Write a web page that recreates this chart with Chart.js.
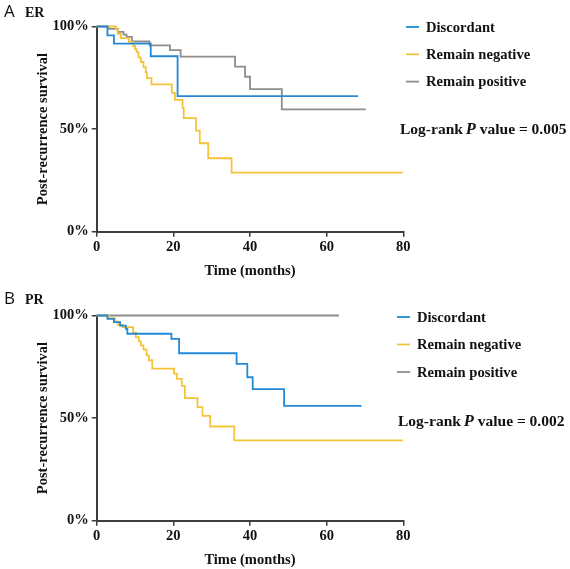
<!DOCTYPE html>
<html>
<head>
<meta charset="utf-8">
<script src="https://cdn.jsdelivr.net/npm/chart.js@4.4.0/dist/chart.umd.min.js"></script>
<style>
  html, body { margin: 0; padding: 0; background: #fff; }
  #wrap { position: relative; width: 570px; height: 569px; }
  .panel { position: absolute; left: 0; width: 570px; height: 280px; }
</style>
</head>
<body>
<div id="wrap">
  <div class="panel" style="top:0"><canvas id="chartER"></canvas></div>
  <div class="panel" style="top:289px"><canvas id="chartPR"></canvas></div>
</div>
<script>
// ---- data (months, survival %) ----
const xTicks = [0, 20, 40, 60, 80];
const yTicks = [0, 50, 100];
const groupNames = ['Discordant', 'Remain negative', 'Remain positive'];

// ER panel
const erDiscMonths = [0, 2.8, 4.5, 14.1, 21.1, 68.2];
const erDiscSurv   = [100, 95.7, 91.7, 85.5, 66.1, 66.1];
const erNegMonths = [0, 5.0, 5.5, 6.3, 8.4, 9.5, 10.0, 10.4, 10.9, 11.5, 12.2, 12.8, 13.1, 14.3, 19.6, 20.4, 22.4, 22.7, 25.9, 26.9, 29.1, 35.2, 79.8];
const erNegSurv   = [100, 98.6, 96.4, 94.3, 92.5, 90.5, 89.0, 87.5, 85.0, 82.7, 80.2, 77.7, 74.8, 71.8, 67.7, 64.2, 60.3, 55.3, 49.3, 43.1, 35.8, 28.8, 28.8];
const erPosMonths = [0, 3.1, 5.5, 7.0, 7.8, 9.2, 13.8, 19.1, 21.9, 36.1, 38.7, 40.0, 48.3, 70.2];
const erPosSurv   = [100, 98.8, 97.4, 96.0, 94.9, 92.7, 90.8, 88.5, 85.3, 80.4, 75.5, 69.5, 59.6, 59.6];
const erPValue = '0.005';

// PR panel
const prDiscMonths = [0, 2.8, 4.5, 6.1, 7.6, 8.0, 19.5, 21.5, 36.5, 39.3, 40.7, 48.9, 69.1];
const prDiscSurv   = [100, 98.4, 96.8, 95.1, 93.5, 91.1, 88.6, 81.6, 76.4, 69.9, 64.1, 56.0, 56.0];
const prNegMonths = [0, 3.2, 4.7, 5.5, 6.7, 9.5, 10.2, 11.0, 11.5, 12.2, 13.0, 13.6, 14.5, 20.2, 20.9, 22.2, 23.0, 26.3, 27.6, 29.6, 35.9, 79.9];
const prNegSurv   = [100, 98.7, 97.1, 95.5, 94.3, 91.6, 89.5, 87.4, 85.4, 83.5, 80.6, 78.2, 74.1, 71.7, 69.1, 65.7, 59.7, 55.3, 51.1, 45.9, 39.1, 39.1];
const prPosMonths = [0, 63.2];
const prPosSurv   = [100, 100];
const prPValue = '0.002';

const colors = ['#2389d6', '#f5c33b', '#8d8d8d'];
const serif = '"Liberation Serif", "Times New Roman", serif';

function toPoints(months, surv) {
    return months.map(function (m, i) {
        return {x: m, y: surv[i]};
    });
}

// legend, p value and panel tag drawn on the canvas
const notesPlugin = {
    id: 'notes',
    afterDraw(chart, args, opts) {
        const ctx = chart.ctx;
        ctx.save();
        ctx.textBaseline = 'middle';
        ctx.textAlign = 'left';
        // panel tag
        ctx.fillStyle = '#111';
        ctx.font = '17px "Open Sans", sans-serif';
        ctx.fillText(opts.tag, 4, opts.tagY);
        ctx.font = 'bold 14px ' + serif;
        ctx.fillText(opts.title, 25, opts.tagY + 1);
        // legend
        ctx.font = 'bold 14.6px ' + serif;
        chart.data.datasets.forEach(function (ds, i) {
            const y = opts.legendY + i * opts.legendGap;
            ctx.strokeStyle = ds.borderColor;
            ctx.lineWidth = 1.8;
            ctx.beginPath();
            ctx.moveTo(opts.legendX, y);
            ctx.lineTo(opts.legendX + 13, y);
            ctx.stroke();
            ctx.fillStyle = '#111';
            ctx.fillText(ds.label, opts.legendX + 20, y + 1);
        });
        // log-rank p value
        let x = opts.pX;
        const y = opts.pY;
        ctx.font = 'bold 15.5px ' + serif;
        ctx.fillText('Log-rank ', x, y);
        x += ctx.measureText('Log-rank ').width - 1;
        ctx.font = 'italic bold 16.5px ' + serif;
        ctx.fillText('P', x, y);
        x += ctx.measureText('P').width;
        ctx.font = 'bold 15.5px ' + serif;
        ctx.fillText(' value = ' + opts.p, x, y);
        ctx.restore();
    }
};

function makeChart(id, months, survs, notes) {
    const ctx = document.getElementById(id);
    return new Chart(ctx, {
        type: 'line',
        data: {
            datasets: groupNames.map(function (name, i) {
                return {
                    label: name,
                    data: toPoints(months[i], survs[i]),
                    borderColor: colors[i],
                    backgroundColor: colors[i],
                    borderWidth: 1.8,
                    stepped: 'before',
                    pointRadius: 0,
                    fill: false,
                    clip: 4
                };
            })
        },
        options: {
            responsive: false,
            animation: false,
            events: [],
            layout: {padding: {top: 26.5, right: 570 - 403.3, left: 0, bottom: 0}},
            plugins: {
                legend: {display: false},
                tooltip: {enabled: false},
                notes: notes
            },
            scales: {
                x: {
                    type: 'linear',
                    min: 0,
                    max: 80,
                    afterBuildTicks: function (s) {
                        s.ticks = xTicks.map(function (v) { return {value: v}; });
                    },
                    afterFit: function (s) { s.height = 48.3; },
                    grid: {display: true, drawOnChartArea: false, tickLength: 5, color: '#3d3d3d', lineWidth: 1.5},
                    border: {display: true, color: '#3d3d3d', width: 2},
                    ticks: {color: '#111', padding: 2, font: {family: serif, size: 14.5, weight: 'bold'}},
                    title: {display: true, text: 'Time (months)', color: '#111', padding: 0,
                        font: {family: serif, size: 14.5, weight: 'bold'}}
                },
                y: {
                    min: 0,
                    max: 100,
                    afterBuildTicks: function (s) {
                        s.ticks = yTicks.map(function (v) { return {value: v}; });
                    },
                    afterFit: function (s) { s.width = 96.7; },
                    grid: {display: true, drawOnChartArea: false, tickLength: 5, color: '#3d3d3d', lineWidth: 1.5},
                    border: {display: true, color: '#3d3d3d', width: 2},
                    ticks: {color: '#111', padding: 3, font: {family: serif, size: 14.5, weight: 'bold'},
                        callback: function (v) { return v + '%'; }},
                    title: {display: true, text: 'Post-recurrence survival', color: '#111', padding: {top: 35, bottom: 0},
                        font: {family: serif, size: 14.5, weight: 'bold'}}
                }
            }
        },
        plugins: [notesPlugin]
    });
}

document.getElementById('chartER').width = 570;
document.getElementById('chartER').height = 280;
document.getElementById('chartPR').width = 570;
document.getElementById('chartPR').height = 280;

makeChart('chartER',
    [erDiscMonths, erNegMonths, erPosMonths],
    [erDiscSurv, erNegSurv, erPosSurv],
    {tag: 'A', title: 'ER', tagY: 12, legendX: 406, legendY: 27, legendGap: 27.3, pX: 400, pY: 130, p: erPValue});

makeChart('chartPR',
    [prDiscMonths, prNegMonths, prPosMonths],
    [prDiscSurv, prNegSurv, prPosSurv],
    {tag: 'B', title: 'PR', tagY: 10, legendX: 397, legendY: 28, legendGap: 27.5, pX: 398, pY: 133, p: prPValue});
</script>
</body>
</html>
